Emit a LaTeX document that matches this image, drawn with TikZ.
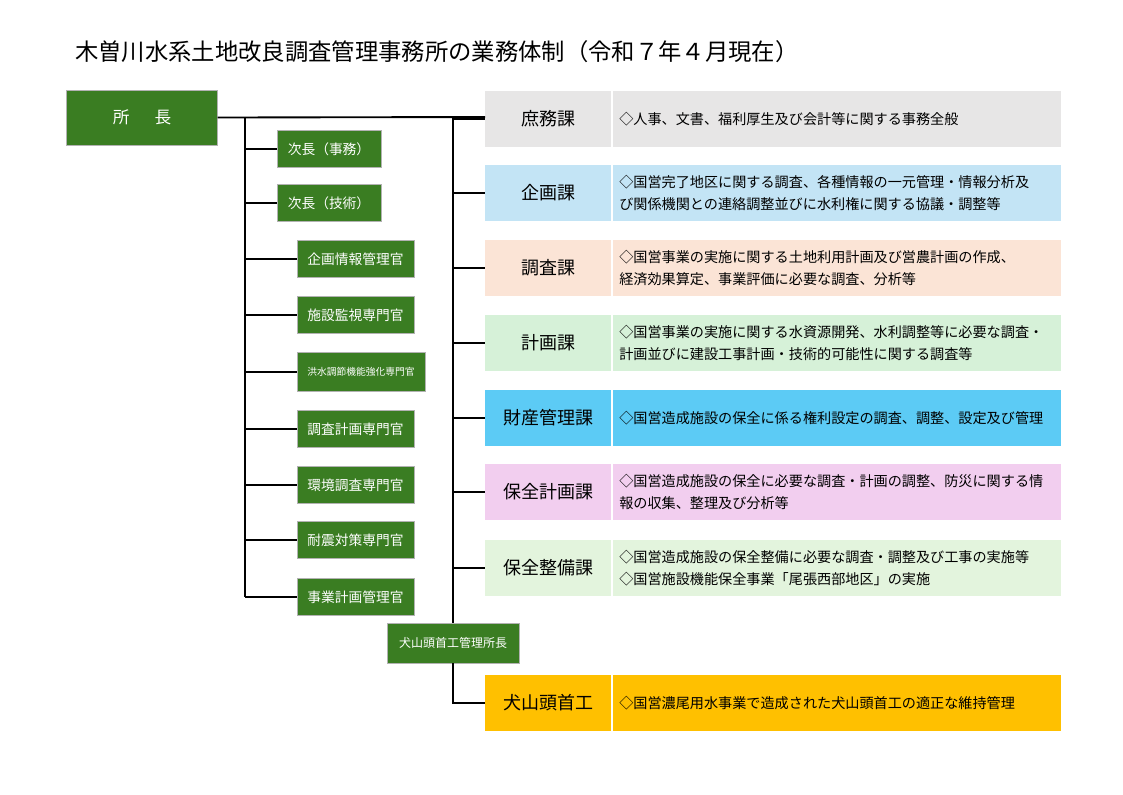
\documentclass[tikz,border=0pt]{standalone}
\usepackage{fontspec}
\setmainfont{Noto Sans CJK JP}
\definecolor{gbox}{HTML}{3A7D22}
\definecolor{cshomu}{HTML}{E7E6E6}
\definecolor{ckikaku}{HTML}{C3E4F5}
\definecolor{cchosa}{HTML}{FBE4D6}
\definecolor{ckeikaku}{HTML}{D6F1D8}
\definecolor{czaisan}{HTML}{5CCBF5}
\definecolor{chozen}{HTML}{F2CEEF}
\definecolor{cseibi}{HTML}{E3F4DD}
\definecolor{cinuyama}{HTML}{FFC000}
\tikzset{
  gnode/.style={draw=gray!60,fill=gbox,text=white,inner sep=0pt,font=\fontsize{10.3}{11}\selectfont},
  kalabel/.style={inner sep=0pt,font=\fontsize{13.5}{15}\selectfont},
  kadesc/.style={anchor=west,align=left,inner sep=0pt,font=\fontsize{10.6}{16.5}\selectfont},
  link/.style={line width=1.4pt}
}
\begin{document}
\begin{tikzpicture}[x=0.75pt,y=-0.75pt]
  \useasboundingbox (0,0) rectangle (1123,794);
  \node[anchor=west,inner sep=0pt,font=\fontsize{17.5}{19}\selectfont] (title) at (75,52)
    {木曽川水系土地改良調査管理事務所の業務体制（令和７年４月現在）};
  % trunk lines
  \coordinate (jA) at (245,117);
  \coordinate (jB) at (453,117);
  % boxes on the left
  \node[gnode,minimum width=113pt,minimum height=41pt,font=\fontsize{12.5}{14}\selectfont] (chief) at (142,117.5) {所\hspace{1.5em}長};
  \foreach \nm/\txt/\y in {jimu/次長（事務）/149, gijutsu/次長（技術）/203}
    \node[gnode,minimum width=78pt,minimum height=28pt] (\nm) at (329,\y) {\txt};
  \foreach \nm/\txt/\y in {kjk/企画情報管理官/259, shisetsu/施設監視専門官/315,
      chosakei/調査計画専門官/429, kankyo/環境調査専門官/485,
      taishin/耐震対策専門官/540, jigyo/事業計画管理官/597}
    \node[gnode,minimum width=88pt,minimum height=28pt] (\nm) at (355.5,\y) {\txt};
  \node[gnode,minimum width=96pt,minimum height=29pt,font=\fontsize{7.3}{8}\selectfont] (kozui) at (361,372) {洪水調節機能強化専門官};
  \node[gnode,minimum width=99pt,minimum height=30pt,font=\fontsize{9}{10}\selectfont] (inuchief) at (453,643) {犬山頭首工管理所長};
  % sections on the right
  \foreach \nm/\lbl/\col/\y/\dsc in {
      shomu/庶務課/cshomu/119/{◇人事、文書、福利厚生及び会計等に関する事務全般},
      kikaku/企画課/ckikaku/193/{◇国営完了地区に関する調査、各種情報の一元管理・情報分析及\\び関係機関との連絡調整並びに水利権に関する協議・調整等},
      chosa/調査課/cchosa/268/{◇国営事業の実施に関する土地利用計画及び営農計画の作成、\\経済効果算定、事業評価に必要な調査、分析等},
      keikaku/計画課/ckeikaku/343/{◇国営事業の実施に関する水資源開発、水利調整等に必要な調査・\\計画並びに建設工事計画・技術的可能性に関する調査等},
      zaisan/財産管理課/czaisan/418/{◇国営造成施設の保全に係る権利設定の調査、調整、設定及び管理},
      hozen/保全計画課/chozen/492/{◇国営造成施設の保全に必要な調査・計画の調整、防災に関する情\\報の収集、整理及び分析等},
      seibi/保全整備課/cseibi/568/{◇国営造成施設の保全整備に必要な調査・調整及び工事の実施等\\◇国営施設機能保全事業「尾張西部地区」の実施},
      inuyama/犬山頭首工/cinuyama/703/{◇国営濃尾用水事業で造成された犬山頭首工の適正な維持管理}} {
    \fill[\col] (485,\y-28) rectangle (1061,\y+28);
    \draw[white,line width=0.8pt] (612,\y-28) -- (612,\y+28);
    \node[kalabel] (\nm) at (548.5,\y) {\lbl};
    \node[kadesc] (\nm d) at (619,\y) {\dsc};
  }
  % connectors
  \draw[link] (chief.east) -- (485,117);
  \draw[link] (jA) -- (245,597);
  \draw[link] (jB) -- (inuchief.north);
  \draw[link] (inuchief.south) |- (485,703);
  \foreach \nm in {jimu,gijutsu,kjk,shisetsu,kozui,chosakei,kankyo,taishin,jigyo}
    \draw[link] (\nm.west) -- (\nm.west -| jA);
  \foreach \nm in {shomu,kikaku,chosa,keikaku,zaisan,hozen,seibi}
    \draw[link] (jB |- \nm) -- (485,0 |- \nm);
\end{tikzpicture}
\end{document}
